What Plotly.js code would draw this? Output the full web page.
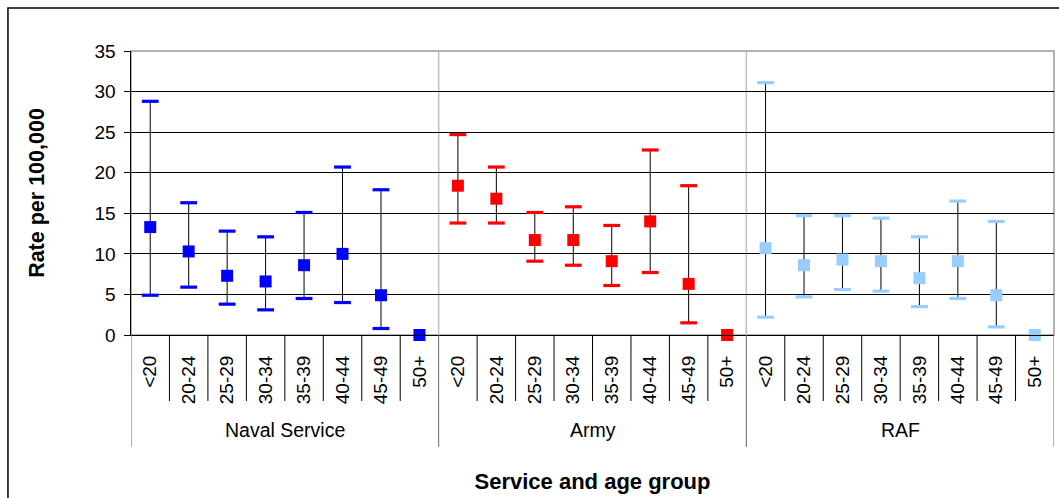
<!DOCTYPE html>
<html>
<head>
<meta charset="utf-8">
<script src="https://cdn.plot.ly/plotly-3.0.1.min.js"></script>
<style>
  html, body { margin: 0; padding: 0; background: #fff; }
  #chart { width: 1059px; height: 498px; }
</style>
</head>
<body>
<div id="chart"></div>
<script>
// ---- Data ----
const ages = ['<20', '20-24', '25-29', '30-34', '35-39', '40-44', '45-49', '50+'];
const services = ['Naval Service', 'Army', 'RAF'];

const navalRate  = [13.3, 10.3, 7.3, 6.6, 8.6, 10.0, 4.9, 0];
const navalUpper = [28.8, 16.3, 12.8, 12.1, 15.1, 20.7, 17.9, 0];
const navalLower = [4.9, 5.9, 3.8, 3.1, 4.5, 4.0, 0.8, 0];

const armyRate  = [18.4, 16.8, 11.7, 11.7, 9.1, 14.0, 6.3, 0];
const armyUpper = [24.7, 20.7, 15.1, 15.8, 13.5, 22.8, 18.4, 0];
const armyLower = [13.8, 13.8, 9.1, 8.6, 6.1, 7.7, 1.5, 0];

const rafRate  = [10.7, 8.6, 9.3, 9.1, 7.0, 9.1, 4.9, 0];
const rafUpper = [31.1, 14.7, 14.7, 14.4, 12.1, 16.5, 14.0, 0];
const rafLower = [2.2, 4.7, 5.6, 5.4, 3.5, 4.5, 1.0, 0];

const serviceColors = ['#0000FF', '#FF0000', '#99CCFF'];

// ---- Build traces ----
const seriesData = [
  {rate: navalRate, upper: navalUpper, lower: navalLower},
  {rate: armyRate, upper: armyUpper, lower: armyLower},
  {rate: rafRate, upper: rafUpper, lower: rafLower}
];
const nA = ages.length;
const traces = [];
seriesData.forEach((s, g) => {
  const xs = ages.map((a, i) => g * nA + i);
  const color = serviceColors[g];
  // coloured caps
  const capX = [], capY = [];
  s.upper.forEach((u, i) => {
    if (u !== s.rate[i]) { capX.push(xs[i]); capY.push(u); }
    if (s.lower[i] !== s.rate[i]) { capX.push(xs[i]); capY.push(s.lower[i]); }
  });
  // error bar stems (black) + square markers
  traces.push({
    type: 'scatter', mode: 'markers', x: xs, y: s.rate,
    name: services[g], showlegend: false, cliponaxis: false,
    marker: {symbol: 'square', size: 12, color: color},
    error_y: {
      type: 'data', symmetric: false,
      array: s.upper.map((u, i) => u - s.rate[i]),
      arrayminus: s.rate.map((r, i) => r - s.lower[i]),
      color: '#000', thickness: 1, width: 0
    },
    hoverinfo: 'x+y'
  });
  traces.push({
    type: 'scatter', mode: 'markers', x: capX, y: capY,
    showlegend: false, hoverinfo: 'skip', cliponaxis: false,
    marker: {symbol: 'line-ew-open', size: 12, color: color, line: {color: color, width: 3.2}}
  });
});

// ---- Axis tick labels & dividers ----
const tickvals = [], ticktext = [];
services.forEach((sv, g) => ages.forEach((a, i) => { tickvals.push(g * nA + i); ticktext.push(a); }));
const nTot = tickvals.length;

const shapes = [];
// outer chart frame
shapes.push({type: 'rect', xref: 'paper', yref: 'paper',
  x0: -0.1333, x1: 1.05, y0: -0.7, y1: 1.1514,
  line: {color: '#000', width: 1.5}, layer: 'below'});
// plot area border (grey)
shapes.push({type: 'rect', xref: 'paper', yref: 'paper', x0: 0, x1: 1, y0: 0, y1: 1,
  line: {color: '#999', width: 1.5}, layer: 'below'});
for (let k = 0; k <= nTot; k++) {
  const xb = k - 0.5;
  const isGroup = (k % nA === 0);
  shapes.push({type: 'line', xref: 'x', yref: 'paper', x0: xb, x1: xb,
    y0: isGroup ? -0.394 : -0.2324, y1: 0,
    line: {color: isGroup ? '#666' : '#000', width: 1}});
  if (isGroup && k > 0 && k < nTot) {
    shapes.push({type: 'line', xref: 'x', yref: 'paper', x0: xb, x1: xb, y0: 0, y1: 1,
      line: {color: '#c0c0c0', width: 1.5}, layer: 'below'});
  }
}

const annotations = services.map((sv, g) => ({
  xref: 'x', yref: 'paper', x: g * nA + (nA - 1) / 2, y: -0.3345,
  text: sv, showarrow: false, yanchor: 'middle', xanchor: 'center',
  font: {family: 'Liberation Sans, Arial, sans-serif', size: 19.5, color: '#000'}
}));

const layout = {
  width: 1059, height: 498,
  margin: {l: 131, r: 5, t: 51, b: 163},
  paper_bgcolor: '#fff', plot_bgcolor: '#fff',
  font: {family: 'Liberation Sans, Arial, sans-serif', color: '#000', size: 19},
  showlegend: false,
  xaxis: {
    range: [-0.5, nTot - 0.5], tickmode: 'array', tickvals: tickvals, ticktext: ticktext,
    tickangle: -90, ticks: '', showgrid: false, zeroline: false,
    showline: true, linecolor: '#000', linewidth: 1,
    ticklabelstandoff: 12,
    tickfont: {size: 19},
    title: {text: '<b>Service and age group</b>', font: {size: 22}, standoff: 70}
  },
  yaxis: {
    range: [0, 35], dtick: 5, tick0: 0, ticks: 'outside', ticklen: 6, tickcolor: '#000',
    showgrid: true, gridcolor: '#000', gridwidth: 1, zeroline: false,
    showline: true, linecolor: '#000', linewidth: 1.5,
    ticklabelstandoff: 4,
    tickfont: {size: 19},
    title: {text: '<b>Rate per 100,000</b>', font: {size: 21.5}, standoff: 44}
  },
  shapes: shapes,
  annotations: annotations
};

Plotly.newPlot('chart', traces, layout, {displayModeBar: false, staticPlot: true});
</script>
</body>
</html>
